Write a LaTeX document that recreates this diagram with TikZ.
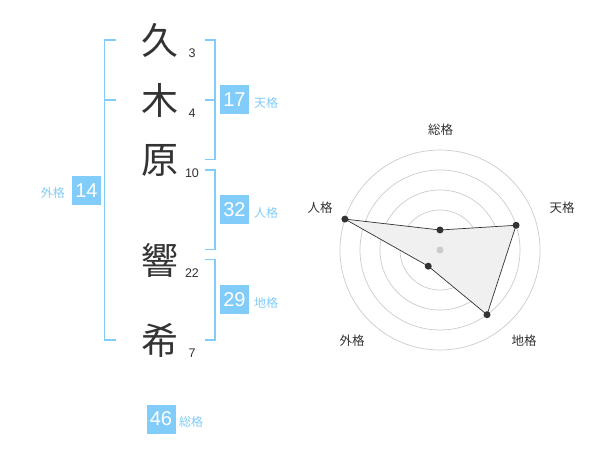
\documentclass[tikz,border=0pt]{standalone}
\usepackage{fontspec}
\setmainfont{Liberation Sans}
\newfontfamily\cjk{Noto Sans CJK JP}
\definecolor{kblue}{RGB}{130,204,250}
\definecolor{kdark}{RGB}{51,51,51}
\definecolor{kring}{RGB}{204,204,204}
\begin{document}
\begin{tikzpicture}[x=1pt,y=-1pt,
  kanji/.style={font=\cjk\fontsize{37}{37}\selectfont, text=kdark, inner sep=0},
  strokes/.style={font=\fontsize{12.5}{12.5}\selectfont, text=kdark, inner sep=0},
  valbox/.style={fill=kblue, text=white, minimum width=29, minimum height=29, inner sep=0,
    font=\fontsize{20}{20}\selectfont},
  kaku/.style={font=\cjk\fontsize{12}{12}\selectfont, text=kblue, inner sep=0},
  brk/.style={draw=kblue, line width=1.7},
  ring/.style={draw=kring, line width=0.7},
  axlabel/.style={font=\cjk\fontsize{12.5}{12.5}\selectfont, text=kdark, inner sep=0},
  dot/.style={circle, fill=kdark, inner sep=0, minimum size=7},
]
\useasboundingbox (0,0) rectangle (600,470);
\fill[white] (0,0) rectangle (600,470);

% characters
\node[kanji] (k1) at (160,40) {久};
\node[kanji] (k2) at (160,100) {木};
\node[kanji] (k3) at (160,160) {原};
\node[kanji] (k4) at (160,260) {響};
\node[kanji] (k5) at (160,340) {希};
\node[strokes] (s1) at (192,53) {3};
\node[strokes] (s2) at (192,113) {4};
\node[strokes] (s3) at (192,173) {10};
\node[strokes] (s4) at (192,273) {22};
\node[strokes] (s5) at (192,353) {7};

% left bracket (gaikaku)
\draw[brk] (116,40) -- (104.5,40) -- (104.5,340) -- (116,340);
\draw[brk] (104.5,100) -- (116,100);
% right brackets
\draw[brk] (205,40) -- (215,40) -- (215,159.5) -- (205,159.5);
\draw[brk] (205,100) -- (215,100);
\draw[brk] (205,170) -- (215,170) -- (215,249.5) -- (205,249.5);
\draw[brk] (205,259.5) -- (215,259.5) -- (215,340) -- (205,340);

% value boxes
\node[valbox] (ten) at (234.5,100) {17};
\node[kaku, anchor=west] (tenl) at (254,103) {天格};
\node[valbox] (jin) at (234.5,210) {32};
\node[kaku, anchor=west] (jinl) at (254,213) {人格};
\node[valbox] (chi) at (234.5,300) {29};
\node[kaku, anchor=west] (chil) at (254,303) {地格};
\node[valbox] (gai) at (86.5,190.5) {14};
\node[kaku, anchor=east] (gail) at (65,193) {外格};
\node[valbox] (sou) at (161,419) {46};
\node[kaku, anchor=west] (soul) at (179,422) {総格};

% radar chart
\begin{scope}[shift={(440,250)}]
  \foreach \r in {20,40,60,80,100} \draw[ring] (0,0) circle[radius=\r];
  \coordinate (pS) at (-90:20);
  \coordinate (pT) at (-18:80);
  \coordinate (pC) at (54:80);
  \coordinate (pG) at (126:20);
  \coordinate (pJ) at (198:100);
  \fill[black!6] (pS) -- (pT) -- (pC) -- (pG) -- (pJ) -- cycle;
  \draw[kdark, line width=0.7] (pS) -- (pT) -- (pC) -- (pG) -- (pJ) -- cycle;
  \node[circle, fill=kring, inner sep=0, minimum size=7] (ctr) at (0,0) {};
  \node[dot] (dS) at (pS) {};
  \node[dot] (dT) at (pT) {};
  \node[dot] (dC) at (pC) {};
  \node[dot] (dG) at (pG) {};
  \node[dot] (dJ) at (pJ) {};
\end{scope}
\node[axlabel] (lS) at (440.7,130) {総格};
\node[axlabel] (lT) at (562,208) {天格};
\node[axlabel] (lC) at (524,341) {地格};
\node[axlabel] (lG) at (352,341) {外格};
\node[axlabel] (lJ) at (320,208) {人格};
\end{tikzpicture}
\end{document}
